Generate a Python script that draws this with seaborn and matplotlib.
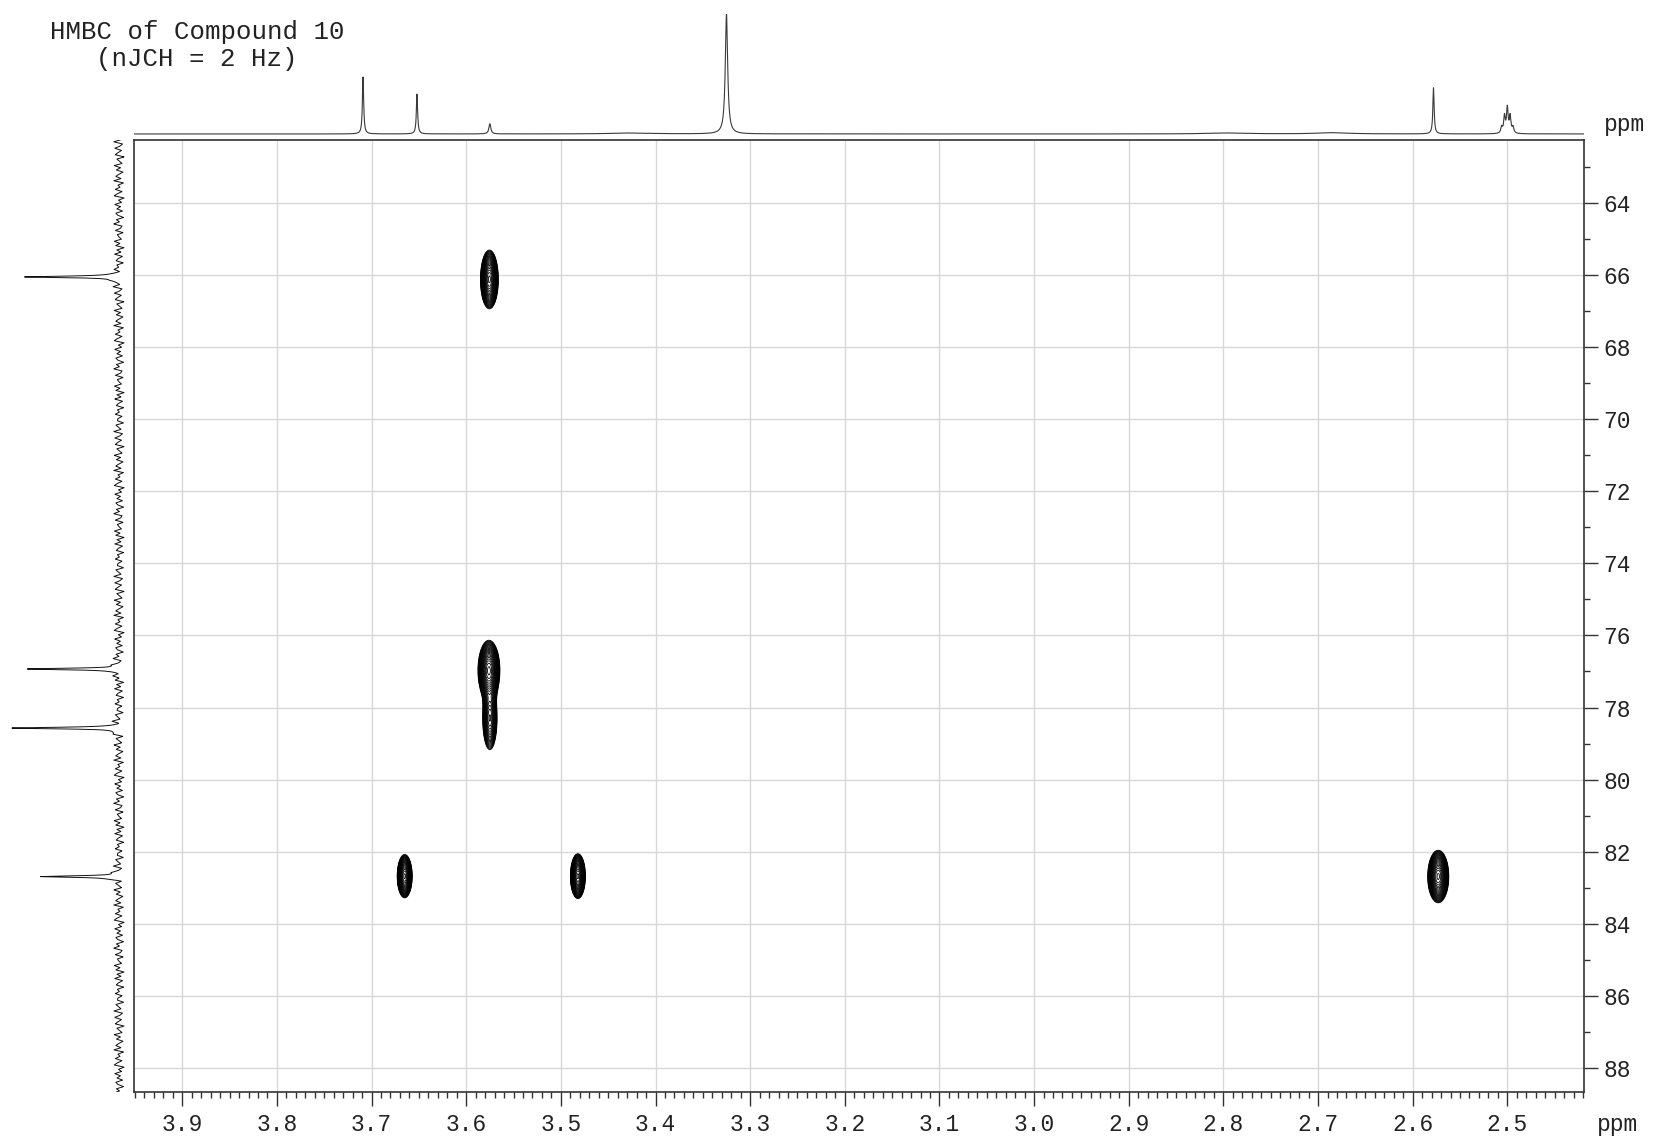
import numpy as np
import pandas as pd
import matplotlib
matplotlib.use("Agg")
import matplotlib.pyplot as plt
from matplotlib.ticker import MultipleLocator, FormatStrFormatter
import seaborn as sns

# 1H projection (top trace): shift (ppm), relative height, half width (ppm)
h_shift = [3.709, 3.652, 3.575, 3.325, 2.578, 3.425, 2.795, 2.685]
h_height = [0.475, 0.333, 0.085, 1.0, 0.386, 0.008, 0.008, 0.010]
h_width = [0.0008, 0.0008, 0.0012, 0.0015, 0.0008, 0.025, 0.025, 0.02]
# DMSO-d5 quintet at 2.50
dmso_shift = [2.494, 2.497, 2.500, 2.503, 2.506]
dmso_height = [0.05, 0.14, 0.21, 0.14, 0.05]

# 13C projection (left trace)
c_shift = [66.05, 76.93, 78.57, 82.69]
c_height = [0.924, 0.876, 1.0, 0.752]
# baseline noise pattern of the 13C trace (read as texture)
c_noise = [0.3, -0.9, 0.6, 0.1, -0.4, 1.0, -0.7, -0.2, 0.8, -0.5, 0.2, 0.7, -1.0,
           0.4, -0.1, -0.6, 0.9, -0.3, 0.5, -0.8, 0.0, 0.6, -0.4, 1.0, -0.9, 0.2,
           -0.2, 0.7, -0.6, 0.3, 0.9, -1.0, 0.1, -0.5, 0.8, -0.3, 0.4, -0.7, 0.6,
           0.2, -0.9, 0.5, -0.1, 1.0, -0.6, -0.3, 0.7, -0.8, 0.3, 0.0, -0.5, 0.9,
           -0.2, 0.6, -1.0, 0.4, -0.4, 0.8, -0.7, 0.1, 0.5, -0.9, 0.3, -0.1, 0.7,
           -0.6, 0.2]

# HMBC cross peaks: 1H shift, 13C shift, amplitude, sigma H, sigma C
hmbc_h = [3.5755, 3.576, 3.575, 3.665, 3.482, 2.573]
hmbc_c = [66.12, 76.97, 78.30, 82.68, 82.68, 82.69]
hmbc_amp = [1.0, 1.0, 0.6, 1.0, 1.0, 1.0]
hmbc_sh = [0.0044, 0.0054, 0.0040, 0.0037, 0.0037, 0.0052]
hmbc_sc = [0.38, 0.39, 0.46, 0.28, 0.29, 0.34]

xlim = (3.951, 2.419)
ylim = (88.67, 62.25)

sns.set_style("white")
plt.rcParams['font.family'] = ['Liberation Mono', 'DejaVu Sans']

fig = plt.figure(figsize=(16.57, 11.40), dpi=100)
W, H = 1657, 1140

# main 2D axes
ax = fig.add_axes([134 / W, 1 - 1092 / H, 1450 / W, 952 / H])

x = np.linspace(2.40, 3.97, 3140)
y = np.linspace(62.0, 89.0, 1080)
X, Y = np.meshgrid(x, y)
Z = np.zeros_like(X)
for h, c, a, sh, sc in zip(hmbc_h, hmbc_c, hmbc_amp, hmbc_sh, hmbc_sc):
    Z += a * np.exp(-0.5 * ((X - h) / sh) ** 2 - 0.5 * ((Y - c) / sc) ** 2)
ax.contour(X, Y, Z, levels=np.geomspace(0.1, 0.97, 24), colors="black", linewidths=0.6)

ax.set_xlim(*xlim)
ax.set_ylim(*ylim)
ax.xaxis.set_major_locator(MultipleLocator(0.1))
ax.xaxis.set_minor_locator(MultipleLocator(0.01))
ax.xaxis.set_major_formatter(FormatStrFormatter('%.1f'))
ax.yaxis.set_major_locator(MultipleLocator(2))
ax.yaxis.set_minor_locator(MultipleLocator(1))
ax.yaxis.set_major_formatter(FormatStrFormatter('%d'))
ax.yaxis.tick_right()
ax.tick_params(axis='both', which='major', direction='out', length=10, width=1,
               color='#333333', labelsize=16.5, labelcolor='#222222')
ax.tick_params(axis='both', which='minor', direction='out', length=4, width=1, color='#333333')
ax.tick_params(axis='x', which='both', bottom=True, top=False, pad=5)
ax.tick_params(axis='y', which='both', right=True, left=False, pad=4)
ax.grid(True, which='major', color='#d8d8d8', linewidth=1)
ax.set_axisbelow(True)
for s in ax.spines.values():
    s.set_color('#333333')
    s.set_linewidth(1.2)

# top 1H projection
ax_top = fig.add_axes([134 / W, 1 - 136 / H, 1450 / W, 122 / H])
hx = np.linspace(2.40, 3.97, 12000)
hy = np.zeros_like(hx)
for p, a, w in zip(h_shift + dmso_shift, h_height + dmso_height,
                   h_width + [0.0010] * len(dmso_shift)):
    hy += a / (1 + ((hx - p) / w) ** 2)
sns.lineplot(x=hx, y=hy, ax=ax_top, color='#3a3a3a', linewidth=0.8,
             sort=False, estimator=None)
ax_top.set_xlim(*xlim)
ax_top.set_ylim(-0.017, 1.0)
ax_top.axis('off')

# left 13C projection
ax_left = fig.add_axes([8 / W, 1 - 1092 / H, 120 / W, 952 / H])
cy = np.linspace(62.0, 89.0, 8000)
nodes = np.arange(62.0, 89.05, 0.06)
pattern = np.resize(np.array(c_noise), nodes.size)
cx = 0.05 * np.interp(cy, nodes, pattern)
for p, a in zip(c_shift, c_height):
    cx += a / (1 + ((cy - p) / 0.025) ** 2)
sns.lineplot(x=cx, y=cy, ax=ax_left, color='#111111', linewidth=0.7,
             sort=False, estimator=None, orient='y')
ax_left.set_xlim(1.067, -0.087)
ax_left.set_ylim(*ylim)
ax_left.axis('off')

# texts
fig.text(197 / W, 1 - 32 / H, "HMBC of Compound 10", ha='center', va='center',
         fontsize=18.5, color='#222222')
fig.text(197 / W, 1 - 59 / H, "(nJCH = 2 Hz)", ha='center', va='center',
         fontsize=18.5, color='#222222')
fig.text(1604 / W, 1 - 124 / H, "ppm", ha='left', va='center', fontsize=16.5, color='#222222')
fig.text(1597 / W, 1 - 1124 / H, "ppm", ha='left', va='center', fontsize=16.5, color='#222222')

fig.savefig("out.png", dpi=100)
